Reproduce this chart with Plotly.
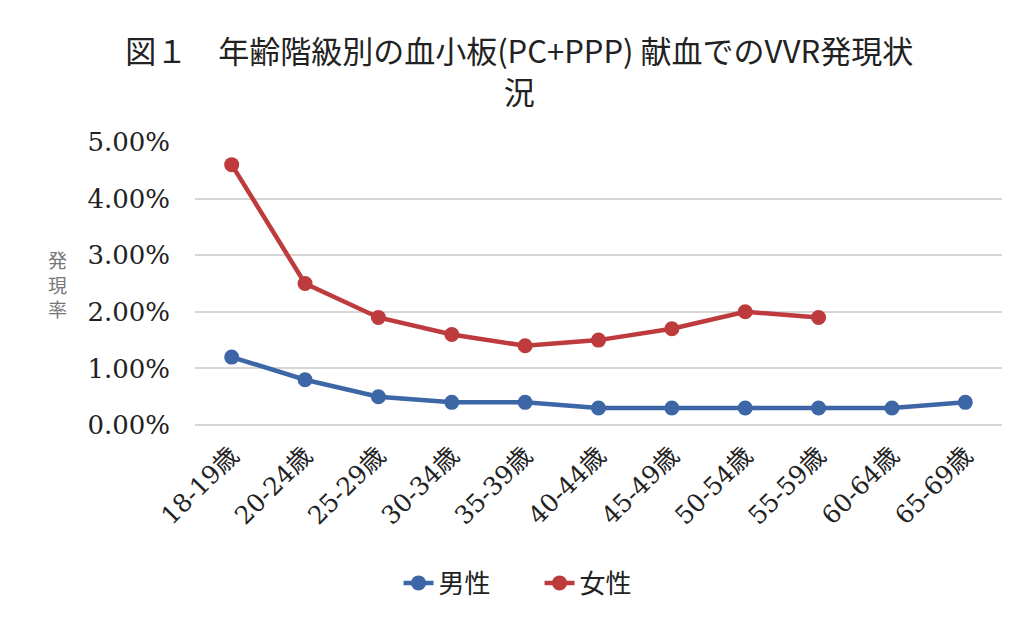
import plotly.graph_objects as go

categories = ["18-19歳", "20-24歳", "25-29歳", "30-34歳", "35-39歳", "40-44歳",
              "45-49歳", "50-54歳", "55-59歳", "60-64歳", "65-69歳"]
male = [0.012, 0.008, 0.005, 0.004, 0.004, 0.003, 0.003, 0.003, 0.003, 0.003, 0.004]
female = [0.046, 0.025, 0.019, 0.016, 0.014, 0.015, 0.017, 0.020, 0.019, None, None]
y_ticks = [0, 0.01, 0.02, 0.03, 0.04, 0.05]
y_title = "発<br>現<br>率"

serif = "DejaVu Serif, Liberation Serif, Noto Sans CJK JP, serif"
cjk = "Noto Sans CJK JP, sans-serif"

fig = go.Figure()
fig.add_trace(go.Scatter(x=categories, y=male, name="男性", mode="lines+markers",
                         line=dict(color="#3D66A6", width=4.5),
                         marker=dict(color="#3D66A6", size=15)))
fig.add_trace(go.Scatter(x=categories, y=female, name="女性", mode="lines+markers",
                         line=dict(color="#BD3A3D", width=4.5),
                         marker=dict(color="#BD3A3D", size=15)))

fig.update_layout(
    width=1018, height=620,
    paper_bgcolor="white", plot_bgcolor="white",
    margin=dict(l=195, r=16, t=142, b=195),
    title=dict(text="図１　年齢階級別の血小板(PC+PPP) 献血でのVVR発現状<br>況",
               x=0.51, xanchor="center", y=0.898, yanchor="middle",
               font=dict(family=cjk, size=31, color="#222222")),
    xaxis=dict(type="category", range=[-0.5, 10.5], tickangle=-45,
               showgrid=False, showline=False,
               automargin=False, ticks="", ticklabelstandoff=10,
               tickfont=dict(family=serif, size=25, color="#222222")),
    yaxis=dict(range=[0, 0.05], tickvals=y_ticks, tickformat=".2%",
               showgrid=True, gridcolor="#d6d6d6", gridwidth=1.5, zeroline=True,
               zerolinecolor="#d6d6d6", zerolinewidth=1.5, showline=False,
               automargin=False, ticks="", ticklabelstandoff=24,
               tickfont=dict(family=serif, size=26, color="#222222")),
    legend=dict(orientation="h", xref="container", yref="container",
                x=0.53, xanchor="center", y=1 - 583 / 620, yanchor="middle",
                entrywidth=96, entrywidthmode="pixels",
                font=dict(family=cjk, size=26, color="#222222")),
    showlegend=True,
)
fig.update_traces(cliponaxis=False)
fig.add_annotation(text=y_title, xref="paper", yref="paper",
                   x=-0.171, y=(425 - 284) / 283,
                   xanchor="center", yanchor="middle",
                   showarrow=False, font=dict(family=cjk, size=19, color="#777777"))

fig.write_html("out.html", config={"displayModeBar": False},
               post_script="document.body.style.margin='0';")
